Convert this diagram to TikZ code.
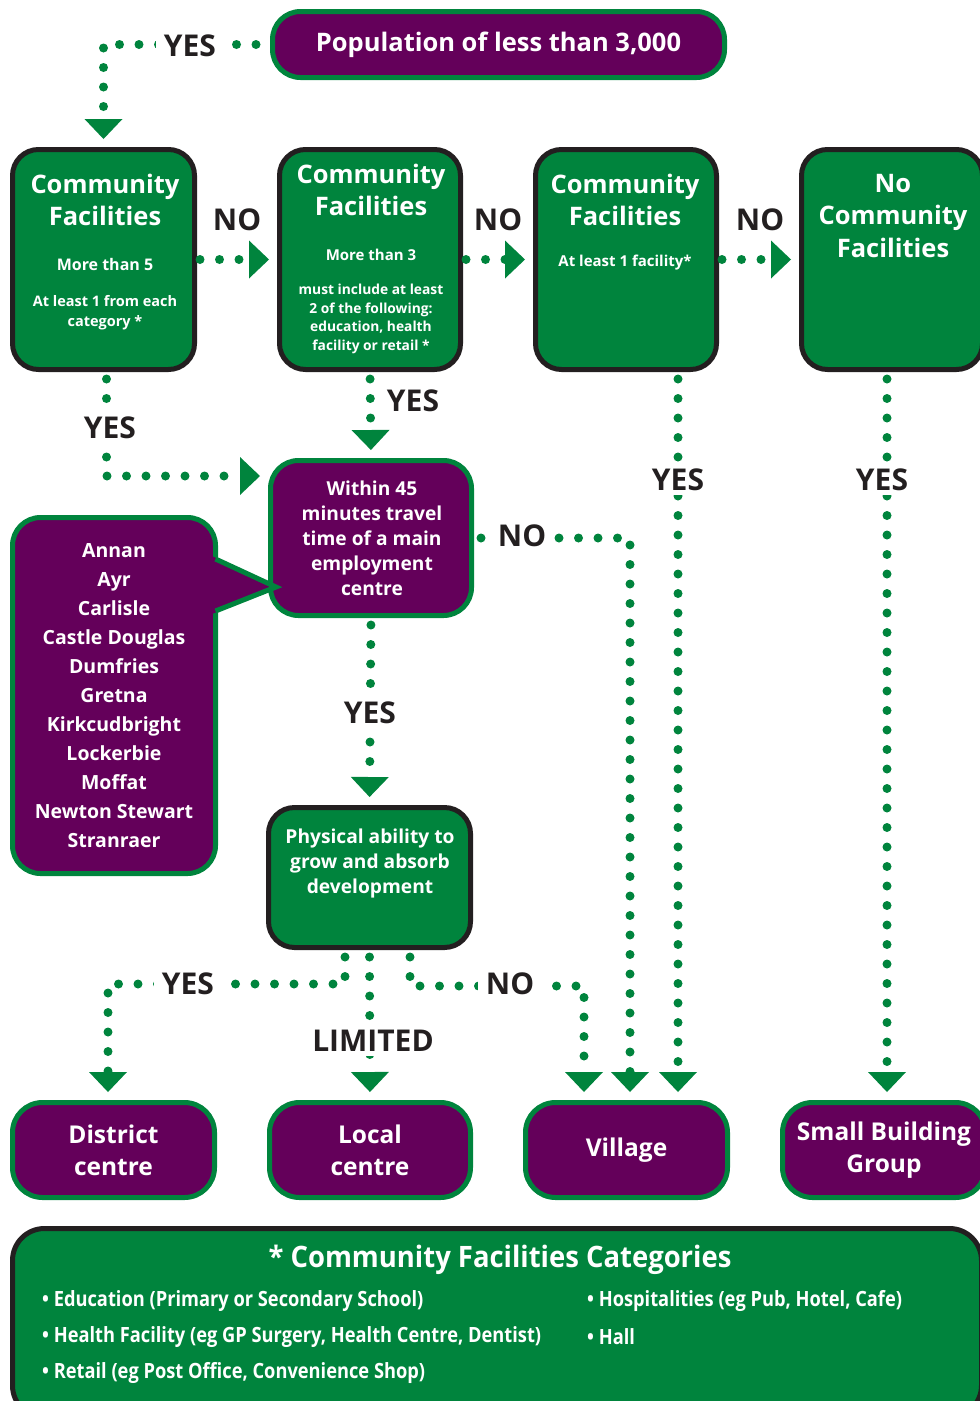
\documentclass[tikz,border=0pt]{standalone}
\usepackage{fontspec}
\setmainfont{Open Sans}
\newfontfamily\narrowfont{Open Sans}[FakeStretch=0.87]
\newfontfamily\headfont{Open Sans}[FakeStretch=0.93]
\usetikzlibrary{positioning,
        arrows.meta}
\definecolor{leafgreen}{RGB}{0,132,61}
\definecolor{plum}{RGB}{100,0,90}
\definecolor{ink}{RGB}{35,31,32}

\begin{document}
\begin{tikzpicture}[x=1pt,y=-1pt,
    greenbox/.style={rectangle,draw=ink,fill=leafgreen,line width=5pt,rounded corners=26pt},
    plumbox/.style={rectangle,draw=leafgreen,fill=plum,line width=5pt,rounded corners=28pt},
    boxtext/.style={text=white,align=center,inner sep=0pt},
    bigtext/.style={boxtext,font=\bfseries\fontsize{25.5}{32.5}\selectfont},
    midtext/.style={boxtext,font=\bfseries\fontsize{19.2}{25}\selectfont},
    detail/.style={boxtext,font=\bfseries\fontsize{16}{20}\selectfont},
    finetext/.style={boxtext,font=\bfseries\fontsize{13.8}{18.5}\selectfont},
    legitem/.style={boxtext,anchor=west,font=\narrowfont\bfseries\fontsize{21}{21}\selectfont},
    answer/.style={text=ink,fill=white,inner xsep=8pt,inner ysep=4pt,font=\bfseries\fontsize{30}{30}\selectfont},
    flow/.style={draw=leafgreen,line width=9pt,line cap=round,dash pattern=on 0pt off 19.5pt,
        shorten <=7pt,shorten >=8pt,-{Triangle[width=38pt,length=20pt,line width=0pt]}}]
            \useasboundingbox (0,0) rectangle (980,1401);

            % question boxes
            \node [plumbox,boxtext,font=\bfseries\fontsize{25.5}{25.5}\selectfont,minimum width=452pt,minimum height=66pt] (pop) at (498.5,44.5) {Population of less than 3,000};
            \node [greenbox,minimum width=182pt,minimum height=220pt] (cfa) at (103.5,259.5) {};
            \node [greenbox,minimum width=181pt,minimum height=220pt] (cfb) at (370,259.5) {};
            \node [greenbox,minimum width=181pt,minimum height=220pt] (cfc) at (626,259.5) {};
            \node [greenbox,minimum width=181pt,minimum height=220pt] (cfd) at (892,259.5) {};
            \node [plumbox,minimum width=201pt,minimum height=155pt] (within) at (371,538) {};
            \node [greenbox,minimum width=202pt,minimum height=140pt] (phys) at (369.5,877.5) {};

            % box texts
            \node [bigtext] (cfatitle) at (105,200) {Community\\Facilities};
            \node [detail] (cfamore) at (105,264) {More than 5};
            \node [detail,font=\bfseries\fontsize{14.5}{20}\selectfont] (cfaeach) at (105,313) {At least 1 from each\\category *};
            \node [bigtext] (cfbtitle) at (371,190) {Community\\Facilities};
            \node [detail,font=\bfseries\fontsize{15}{20}\selectfont] (cfbmore) at (371,255) {More than 3};
            \node [finetext] (cfbmust) at (371,319) {must include at least\\2 of the following:\\education, health\\facility or retail *};
            \node [bigtext] (cfctitle) at (625,200) {Community\\Facilities};
            \node [detail,font=\bfseries\fontsize{15}{20}\selectfont] (cfcone) at (625,263) {At least 1 facility*};
            \node [bigtext] (cfdtitle) at (893,216) {No\\Community\\Facilities};
            \node [midtext] (withintext) at (372,538) {Within 45\\minutes travel\\time of a main\\employment\\centre};
            \node [midtext] (physText) at (370,863) {Physical ability to\\grow and absorb\\development};

            % outcomes
            \node [plumbox,bigtext,font=\bfseries\fontsize{24.5}{32}\selectfont,minimum width=202pt,minimum height=95pt,rounded corners=30pt] (district) at (113.5,1150) {District\\centre};
            \node [plumbox,bigtext,font=\bfseries\fontsize{24.5}{32}\selectfont,minimum width=201pt,minimum height=95pt,rounded corners=30pt] (local) at (370,1150) {Local\\centre};
            \node [plumbox,bigtext,font=\bfseries\fontsize{24.5}{32}\selectfont,minimum width=202pt,minimum height=95pt,rounded corners=30pt] (village) at (626.5,1150) {Village};
            \node [plumbox,bigtext,font=\bfseries\fontsize{24.5}{32}\selectfont,minimum width=203pt,minimum height=95pt,rounded corners=30pt] (sbg) at (884,1150) {Small Building\\Group};

            % flows
            \draw [flow,shorten <=14pt] (pop.west) -| (cfa.north);
            \draw [flow,shorten <=3pt] (cfa.east) -- (cfb.west);
            \draw [flow,shorten <=3pt] (cfb.east) -- (cfc.west);
            \draw [flow,shorten <=3pt] (cfc.east) -- (cfd.west);
            \draw [flow] ([xshift=3pt]cfa.south) |- ([yshift=62pt]within.west);
            \draw [flow] (cfb.south) -- (within.north);
            \draw [flow] (within.east) -| ([xshift=3.5pt]village.north);
            \draw [flow] ([xshift=52pt]cfc.south) -- ([xshift=51.5pt]village.north);
            \draw [flow] ([xshift=-5pt]cfd.south) -- ([xshift=3pt]sbg.north);
            \draw [flow] (within.south) -- (phys.north);
            \draw [flow] ([xshift=-24.5pt]phys.south) -- ++(0,34) -| ([xshift=-5.5pt]district.north);
            \draw [flow] (phys.south) -- (local.north);
            \draw [flow] ([xshift=40.5pt]phys.south) -- ++(0,36) -| ([xshift=-42.5pt]village.north);

            % towns callout
            \node [plumbox,midtext,font=\bfseries\fontsize{19.5}{29}\selectfont,minimum width=203pt,minimum height=356pt] (towns) at (114,695.5) {Annan\\Ayr\\Carlisle\\Castle Douglas\\Dumfries\\Gretna\\Kirkcudbright\\Lockerbie\\Moffat\\Newton Stewart\\Stranraer};
            \fill [plum] (211,555.6) -- (277,587) -- (211,614.4) -- cycle;
            \draw [leafgreen,line width=5pt] (215.5,559) -- (276,587) -- (215.5,611);

            % answers
            \node [answer] (yespop) at (190,46) {YES};
            \node [answer,fill=none] (noa) at (237,220) {NO};
            \node [answer,fill=none] (nob) at (498,220) {NO};
            \node [answer,fill=none] (noc) at (760,220) {NO};
            \node [answer] (yesa) at (110,428) {YES};
            \node [answer,fill=none] (yesb) at (413,401) {YES};
            \node [answer] (nowithin) at (522,536) {NO};
            \node [answer] (yesc) at (678,480) {YES};
            \node [answer] (yesd) at (882,480) {YES};
            \node [answer] (yeswithin) at (370,713) {YES};
            \node [answer] (yesphys) at (188,984) {YES};
            \node [answer] (limphys) at (373,1041) {LIMITED};
            \node [answer] (nophys) at (510,984) {NO};

            % categories
            \node [greenbox,minimum width=969pt,minimum height=189pt,rounded corners=32pt] (legend) at (497,1323) {};
            \node [boxtext,font=\headfont\bfseries\fontsize{29.5}{29.5}\selectfont] (legtitle) at (500,1260) {* Community Facilities Categories};
            \node [legitem] (edu) at (42,1301) {• Education (Primary or Secondary School)};
            \node [legitem] (health) at (42,1337) {• Health Facility (eg GP Surgery, Health Centre, Dentist)};
            \node [legitem] (retail) at (42,1373) {• Retail (eg Post Office, Convenience Shop)};
            \node [legitem] (hosp) at (587,1301) {• Hospitalities (eg Pub, Hotel, Cafe)};
            \node [legitem] (hall) at (587,1337) {• Hall};
        \end{tikzpicture}
\end{document}
